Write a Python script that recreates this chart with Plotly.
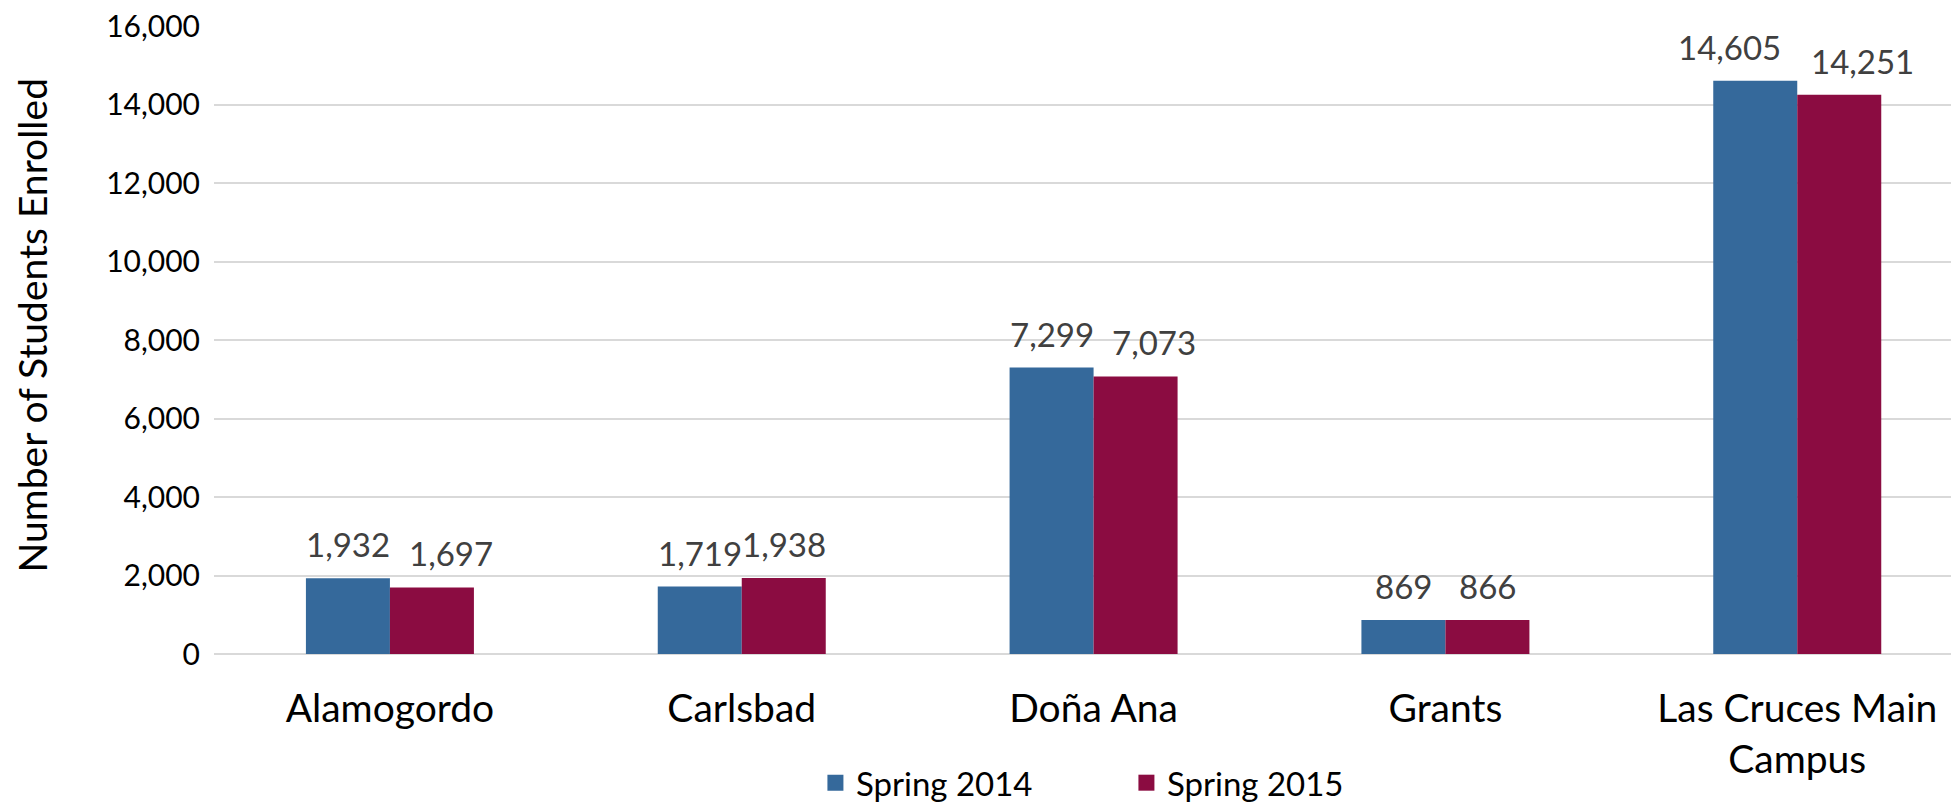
import plotly.graph_objects as go

campuses = ["Alamogordo", "Carlsbad", "Doña Ana", "Grants", "Las Cruces Main<br>Campus"]
spring_2014 = [1932, 1719, 7299, 869, 14605]
spring_2015 = [1697, 1938, 7073, 866, 14251]
series_names = ["Spring 2014", "Spring 2015"]
colors = ["#35699B", "#8B0C41"]
y_ticks = [0, 2000, 4000, 6000, 8000, 10000, 12000, 14000, 16000]
y_title = "Number of Students Enrolled"

# label nudges (px) used by the source to keep neighbouring value labels apart
label_nudge_2014 = [0, 0, 0, 0, -26]
label_nudge_2015 = [19, 0, 18, 0, 23]

FONT = "Lato, 'Open Sans', sans-serif"

W, H = 1951, 803
ML, MR, MT, MB = 214, 0, 26, 149
BARGAP = 0.5225
X_RANGE = [-0.5, 4.437]

plot_w = W - ML - MR
bar_px = plot_w / (X_RANGE[1] - X_RANGE[0]) * (1 - BARGAP) / 2

fig = go.Figure()
annotations = []
for i, (name, vals, col, nudges) in enumerate(zip(series_names, [spring_2014, spring_2015],
                                                   colors, [label_nudge_2014, label_nudge_2015])):
    fig.add_trace(go.Bar(
        x=campuses, y=vals, name=name,
        marker=dict(color=col, line=dict(width=0)),
        showlegend=False,
    ))
    side = -1 if i == 0 else 1
    for c, v, n in zip(campuses, vals, nudges):
        annotations.append(dict(
            x=c, y=v, xref="x", yref="y", text=f"{v:,}", showarrow=False,
            xanchor="center", yanchor="bottom",
            xshift=side * bar_px / 2 + n, yshift=12,
            font=dict(size=33, color="#404040", family=FONT),
        ))

# legend entries
for name, col in zip(series_names, colors):
    fig.add_trace(go.Scatter(
        x=[None], y=[None], mode="markers", name=name,
        marker=dict(symbol="square", size=21, color=col),
    ))

annotations.append(dict(
    text=y_title, textangle=-90, xref="paper", yref="paper",
    x=-0.105, y=0.524, xanchor="center", yanchor="middle", showarrow=False,
    font=dict(size=39, family=FONT, color="#000000"),
))

fig.update_layout(
    width=W, height=H,
    barmode="group", bargap=BARGAP, bargroupgap=0,
    plot_bgcolor="white", paper_bgcolor="white",
    margin=dict(l=ML, r=MR, t=MT, b=MB, autoexpand=False),
    font=dict(family=FONT, color="#000000"),
    legend=dict(orientation="h", x=0.525, xanchor="center", y=-0.205, yanchor="middle",
                font=dict(size=33, family=FONT), entrywidth=265, itemwidth=31,
                itemsizing="trace", traceorder="normal"),
    annotations=annotations,
)
fig.update_xaxes(
    range=X_RANGE,
    tickfont=dict(size=39, family=FONT, color="#000000"),
    ticklabelstandoff=28, showline=False, showgrid=False,
)
fig.update_yaxes(
    range=[0, 16000], tickvals=y_ticks, tickformat=",d",
    tickfont=dict(size=30, family=FONT, color="#000000"),
    showgrid=True, gridcolor="#D9D9D9", gridwidth=2,
    zeroline=True, zerolinecolor="#D9D9D9", zerolinewidth=2,
    ticklabelstandoff=13, ticklabeloverflow="allow",
)

fig.write_html("out.html", config={"displayModeBar": False},
               post_script="document.body.style.margin='0';document.body.style.overflow='hidden';")
